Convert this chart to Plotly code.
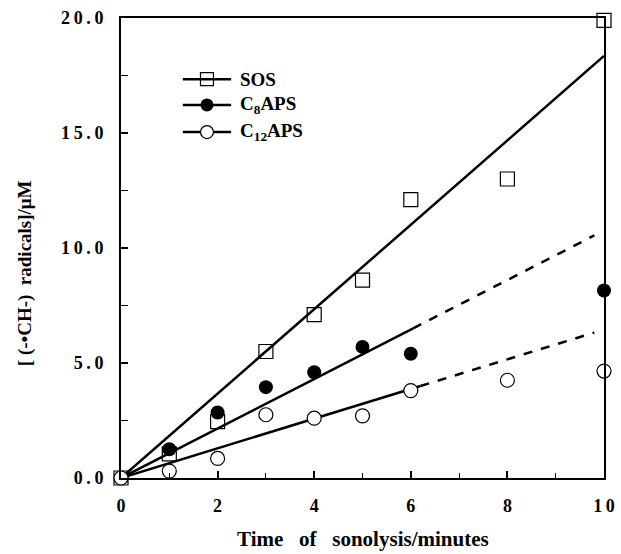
import plotly.graph_objects as go

# Measured radical yields (µM) versus sonolysis time (min)
time_sos = [0, 1, 2, 3, 4, 5, 6, 8, 10]
sos = [0.0, 1.05, 2.45, 5.5, 7.1, 8.6, 12.1, 13.0, 19.9]

time_c8 = [0, 1, 2, 3, 4, 5, 6, 10]
c8aps = [0.0, 1.25, 2.85, 3.95, 4.6, 5.7, 5.4, 8.15]

time_c12 = [0, 1, 2, 3, 4, 5, 6, 8, 10]
c12aps = [0.0, 0.3, 0.85, 2.75, 2.6, 2.7, 3.8, 4.25, 4.65]

# Initial-rate fits (µM per minute): solid over the fitted range, dashed extrapolation
fit_slopes = {"SOS": 1.835, "C8APS": 1.076, "C12APS": 0.645}
fit_solid_end = {"SOS": 10.0, "C8APS": 6.05, "C12APS": 6.2}
fit_dash_end = {"SOS": None, "C8APS": 9.8, "C12APS": 9.8}

series_labels = ["SOS", "C<sub>8</sub>APS", "C<sub>12</sub>APS"]

y_ticks = [0, 5, 10, 15, 20]
y_tick_text = ["0.0", "5.0", "10.0", "15.0", "20.0"]
x_ticks = [0, 2, 4, 6, 8, 10]
x_tick_text = ["0", "2", "4", "6", "8", "10"]

x_title = "Time\u00a0\u00a0 of\u00a0\u00a0 sonolysis/minutes"
y_title = "[\u00a0(-•CH-)\u00a0 radicals]/μM"

SERIF = "Liberation Serif, Times New Roman, serif"
thin = "\u2009"

marker_styles = [
    dict(symbol="square-open", size=14, color="black", line=dict(width=1.2)),
    dict(symbol="circle", size=14, color="black"),
    dict(symbol="circle", size=14, color="white", line=dict(color="black", width=1.2)),
]

fig = go.Figure()

# Fit lines
for key in ["SOS", "C8APS", "C12APS"]:
    k = fit_slopes[key]
    xe = fit_solid_end[key]
    fig.add_trace(go.Scatter(x=[0, xe], y=[0, k * xe], mode="lines",
                             line=dict(color="black", width=2.5),
                             showlegend=False, hoverinfo="skip"))
    xd = fit_dash_end[key]
    if xd is not None:
        fig.add_trace(go.Scatter(x=[xe, xd], y=[k * xe, k * xd], mode="lines",
                                 line=dict(color="black", width=2.5, dash="dash"),
                                 showlegend=False, hoverinfo="skip"))

# Data points
for (xs, ys, name, mk) in [(time_sos, sos, "SOS", marker_styles[0]),
                           (time_c8, c8aps, "C8APS", marker_styles[1]),
                           (time_c12, c12aps, "C12APS", marker_styles[2])]:
    fig.add_trace(go.Scatter(x=xs, y=ys, mode="markers", name=name, marker=mk,
                             cliponaxis=False, showlegend=False))

# Key: line + symbol drawn on an overlay axis spanning the plot area (0..1)
key_x0, key_x1, key_xm, key_text_x = 0.128, 0.228, 0.178, 0.242
key_rows = [0.867, 0.811, 0.752]
for label, mk, yr in zip(series_labels, marker_styles, key_rows):
    fig.add_trace(go.Scatter(x=[key_x0, key_x1], y=[yr, yr], mode="lines",
                             line=dict(color="black", width=2.5),
                             xaxis="x2", yaxis="y2", showlegend=False, hoverinfo="skip"))
    fig.add_trace(go.Scatter(x=[key_xm], y=[yr], mode="markers",
                             marker=dict(mk, size=13),
                             xaxis="x2", yaxis="y2", showlegend=False, hoverinfo="skip"))
    fig.add_annotation(x=key_text_x, y=yr, xref="x2", yref="y2", text=f"<b>{label}</b>",
                       showarrow=False, xanchor="left", yanchor="middle",
                       font=dict(family=SERIF, size=19, color="black"))

# Axis titles
fig.add_annotation(x=0.5, y=-0.132, xref="paper", yref="paper", text=f"<b>{x_title}</b>",
                   showarrow=False, xanchor="center", yanchor="middle",
                   font=dict(family=SERIF, size=21, color="black"))
fig.add_annotation(x=-0.199, y=0.445, xref="paper", yref="paper", text=f"<b>{y_title}</b>",
                   showarrow=False, xanchor="center", yanchor="middle", textangle=-90,
                   font=dict(family=SERIF, size=19, color="black"))

fig.update_layout(
    width=621, height=554,
    margin=dict(l=121, r=17, t=18, b=76),
    plot_bgcolor="white", paper_bgcolor="white",
    font=dict(family=SERIF, size=15, color="black"),
    showlegend=False,
    xaxis=dict(range=[0, 10], tickmode="array", tickvals=x_ticks,
               ticktext=[f"<b>{thin.join(t)}</b>" for t in x_tick_text],
               ticks="inside", ticklen=7, tickwidth=1.5, tickcolor="black",
               minor=dict(tickvals=[1, 3, 5, 7, 9], ticks="inside", ticklen=5,
                          tickwidth=1.2, tickcolor="black"),
               showline=True, linecolor="black", linewidth=2, mirror=True,
               showgrid=False, zeroline=False, ticklabelstandoff=10, automargin=False,
               tickfont=dict(family=SERIF, size=18)),
    yaxis=dict(range=[0, 20], tickmode="array", tickvals=y_ticks,
               ticktext=[f"<b>{thin.join(t)}</b>" for t in y_tick_text],
               ticks="inside", ticklen=7, tickwidth=1.5, tickcolor="black",
               minor=dict(tickvals=[2.5, 7.5, 12.5, 17.5], ticks="inside", ticklen=7,
                          tickwidth=1.2, tickcolor="black"),
               showline=True, linecolor="black", linewidth=2, mirror=True,
               showgrid=False, zeroline=False, ticklabelstandoff=12, automargin=False,
               tickfont=dict(family=SERIF, size=18)),
    xaxis2=dict(overlaying="x", range=[0, 1], visible=False, fixedrange=True),
    yaxis2=dict(overlaying="y", range=[0, 1], visible=False, fixedrange=True),
)

fig.write_html("out.html")
